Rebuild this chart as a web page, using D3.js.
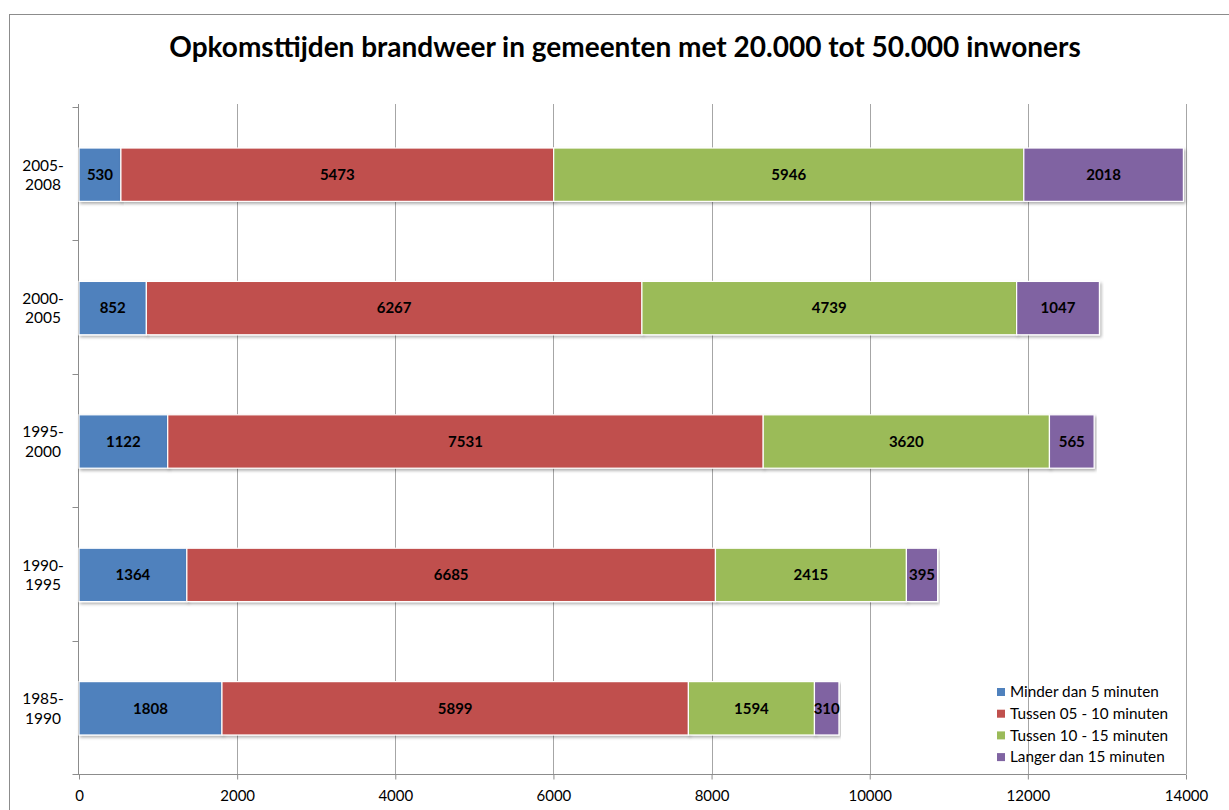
<!DOCTYPE html>
<html><head><meta charset="utf-8">
<script src="https://cdn.jsdelivr.net/npm/d3@7"></script>
<style>body{margin:0;background:#fff;}svg{display:block;}</style>
</head><body>
<svg id="c" width="1229" height="810"></svg>
<script>
const categories = ["2005-2008","2000-2005","1995-2000","1990-1995","1985-1990"];
const seriesNames = ["Minder dan 5 minuten","Tussen 05 - 10 minuten","Tussen 10 - 15 minuten","Langer dan 15 minuten"];
const minder5 = [530, 852, 1122, 1364, 1808];
const tussen5_10 = [5473, 6267, 7531, 6685, 5899];
const tussen10_15 = [5946, 4739, 3620, 2415, 1594];
const langer15 = [2018, 1047, 565, 395, 310];
const xTicks = [0,2000,4000,6000,8000,10000,12000,14000];
const colors = ["#4F81BD","#C0504D","#9BBB59","#8064A2"];
const title = "Opkomsttijden brandweer in gemeenten met 20.000 tot 50.000 inwoners";

const svg = d3.select("#c");
const FONT = "Lato, 'Open Sans', sans-serif";
// frame
svg.append("rect").attr("x",9.5).attr("y",14.5).attr("width",1400).attr("height",1000)
  .attr("fill","none").attr("stroke","#8c8c8c").attr("stroke-width",1);

svg.append("text").attr("x",625).attr("y",57).attr("text-anchor","middle")
  .attr("font-family",FONT).attr("font-weight","bold").attr("font-size",28).attr("fill","#000")
  .text(title);

const L=79, R=1186, T=107, B=774;
const x = d3.scaleLinear().domain([0,14000]).range([L,R]);
const y = d3.scaleBand().domain(categories).range([T,B]).paddingInner(0.6).paddingOuter(0.3);
const yb = d3.scaleBand().domain(categories).range([T,B]);

// gridlines
svg.append("g").selectAll("line").data(xTicks.slice(1)).join("line")
  .attr("x1",d=>Math.round(x(d))+0.5).attr("x2",d=>Math.round(x(d))+0.5)
  .attr("y1",T-3).attr("y2",B).attr("stroke","#a6a6a6").attr("stroke-width",1);

// x axis
const xa = svg.append("g").attr("transform",`translate(0,${B+0.5})`)
  .call(d3.axisBottom(x).tickValues(xTicks).tickSize(5).tickFormat(d3.format("d")).tickSizeOuter(0));
xa.select(".domain").attr("stroke","#8c8c8c").attr("d",`M${L-6},0H${R}`);
xa.selectAll(".tick line").attr("stroke","#8c8c8c").attr("y1",-0).attr("y2",5);
xa.selectAll(".tick text").attr("font-family",FONT).attr("font-size",15).attr("fill","#000").attr("dy","1.25em");

// y axis
const ya = svg.append("g").attr("transform",`translate(${L-0.5},0)`);
ya.append("line").attr("x1",0).attr("x2",0).attr("y1",T-3).attr("y2",B).attr("stroke","#8c8c8c");
const ytickPos = categories.map(c=>yb(c)).concat([B]);
ya.selectAll("line.t").data(ytickPos).join("line").attr("class","t")
  .attr("x1",-6).attr("x2",0).attr("y1",d=>Math.round(d)+0.5).attr("y2",d=>Math.round(d)+0.5).attr("stroke","#8c8c8c");
categories.forEach(c=>{
  const parts = c.split("-");
  const t = svg.append("text").attr("x",43).attr("y",yb(c)+yb.bandwidth()/2)
    .attr("text-anchor","middle").attr("font-family",FONT).attr("font-size",15.5).attr("fill","#000");
  t.append("tspan").attr("x",43).attr("dy","-0.2em").text(parts[0]+"-");
  t.append("tspan").attr("x",43).attr("dy","1.25em").text(parts[1]);
});

// stack
const data = categories.map((c,i)=>({cat:c, s0:minder5[i], s1:tussen5_10[i], s2:tussen10_15[i], s3:langer15[i]}));
const stack = d3.stack().keys(["s0","s1","s2","s3"])(data);

const defs = svg.append("defs");
const f = defs.append("filter").attr("id","sh").attr("x","-5%").attr("y","-20%").attr("width","110%").attr("height","150%");
f.append("feDropShadow").attr("dx",1.5).attr("dy",2).attr("stdDeviation",1.5).attr("flood-color","#000").attr("flood-opacity",0.3);

stack.forEach((layer,k)=>{
  const g = svg.append("g");
  g.selectAll("rect").data(layer).join("rect")
    .attr("x",d=>x(d[0])).attr("width",d=>x(d[1])-x(d[0]))
    .attr("y",d=>y(d.data.cat)+1).attr("height",y.bandwidth())
    .attr("fill",colors[k]).attr("stroke","#fff").attr("stroke-width",1.2)
    .attr("filter","url(#sh)");
});
stack.forEach((layer,k)=>{
  svg.append("g").selectAll("text").data(layer).join("text")
    .attr("x",d=>(x(d[0])+x(d[1]))/2).attr("y",d=>y(d.data.cat)+1+y.bandwidth()/2)
    .attr("dy","0.35em").attr("text-anchor","middle")
    .attr("font-family",FONT).attr("font-weight","bold").attr("font-size",15).attr("fill","#000")
    .text(d=>d[1]-d[0]);
});

// legend
const lg = svg.append("g").attr("transform","translate(997,692)");
seriesNames.forEach((n,i)=>{
  lg.append("rect").attr("x",0).attr("y",i*21.7-4).attr("width",8).attr("height",8).attr("fill",colors[i]);
  lg.append("text").attr("x",13).attr("y",i*21.7).attr("dy","0.35em")
    .attr("font-family",FONT).attr("font-size",15.3).attr("fill","#000").text(n);
});
</script>
</body></html>
